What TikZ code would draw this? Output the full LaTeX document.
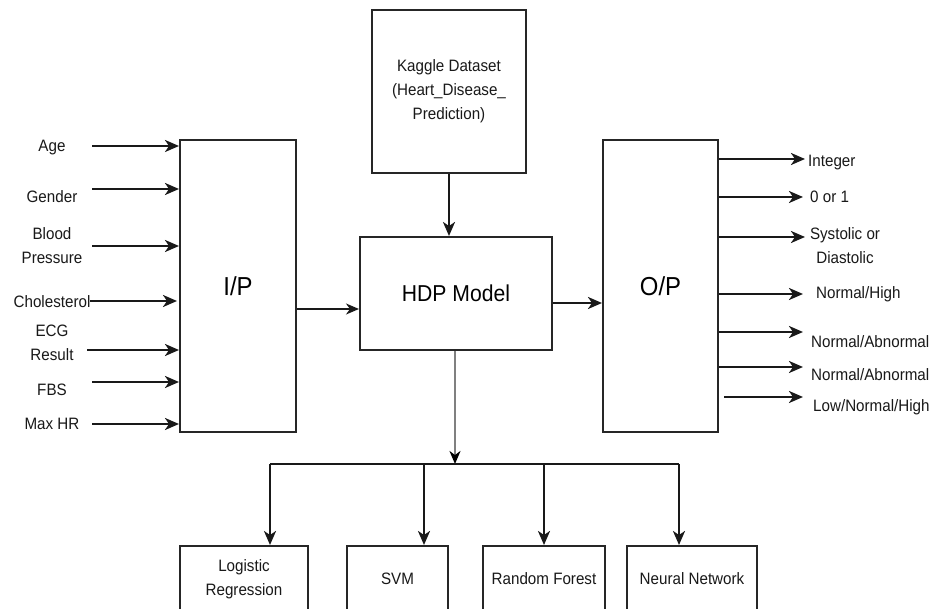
\documentclass[tikz,border=0pt]{standalone}
\usepackage{fontspec}
\setmainfont{Liberation Sans}[FakeStretch=0.92]
\usetikzlibrary{arrows.meta}
\begin{document}
\begin{tikzpicture}[x=1pt,y=-1pt,
 box/.style={draw=black!85,line width=2pt,inner sep=0pt,align=center,fill=white},
 lbl/.style={inner sep=0pt,align=center,text=black!90,font=\fontsize{16.5}{24}\selectfont},
 big/.style={font=\fontsize{26}{30}\selectfont},
 mid/.style={font=\fontsize{23}{28}\selectfont},
 arr/.style={draw=black!90,line width=2.4pt,-{Stealth[length=14pt,width=12pt,inset=4pt]}},
 thinarr/.style={draw=black!90,line width=1.4pt,-{Stealth[length=13pt,width=11pt,inset=4pt]}},
 greyarr/.style={draw=black!50,line width=1.8pt,-{Stealth[length=13pt,width=11pt,inset=4pt,color=black]}},
 bus/.style={draw=black!90,line width=2pt},
 inlbl/.style={lbl,minimum width=78pt},
]
\useasboundingbox (0,0) rectangle (932,609);
\clip (0,0) rectangle (932,609);
\fill[white] (0,0) rectangle (932,609);

% main boxes
\node[box,big,minimum width=116pt,minimum height=292pt] (ip) at (238,286) {I/P};
\node[box,mid,minimum width=192pt,minimum height=113pt] (hdp) at (456,293.5) {HDP Model};
\node[box,lbl,minimum width=154pt,minimum height=163pt] (kag) at (449,91.5) {Kaggle Dataset\\(Heart\_Disease\_\\Prediction)};
\node[box,big,minimum width=115pt,minimum height=292pt] (op) at (660.5,286) {O/P};

% bottom boxes
\node[box,lbl,minimum width=128pt,minimum height=66pt] (lr) at (244,579) {Logistic\\Regression};
\node[box,lbl,minimum width=101pt,minimum height=66pt] (svm) at (397.5,579) {SVM};
\node[box,lbl,minimum width=122pt,minimum height=66pt] (rf) at (544,579) {Random Forest};
\node[box,lbl,minimum width=130pt,minimum height=66pt] (nn) at (692,579) {Neural Network};

% input labels
\node[inlbl] (age) at (52,148) {Age};
\node[inlbl] (gen) at (52,197) {Gender};
\node[inlbl] (bp) at (52,246) {Blood\\Pressure};
\node[inlbl] (chol) at (52,302) {Cholesterol};
\node[inlbl] (ecg) at (52,342.5) {ECG\\Result};
\node[inlbl] (fbs) at (52,390) {FBS};
\node[inlbl] (mhr) at (52,424) {Max HR};

\coordinate (a1) at (92,146);
\coordinate (a2) at (92,189);
\coordinate (a3) at (92,246);
\coordinate (a4) at (90,301);
\coordinate (a5) at (87,350);
\coordinate (a6) at (92,382);
\coordinate (a7) at (92,424);
\foreach \c in {a1,a2,a3,a5,a6,a7} \draw[arr] (\c) -- (\c -| ip.west);
\draw[arr] (a4) -- ([xshift=-2pt]a4 -| ip.west);

% output arrows and labels
\coordinate (o1) at (805,159);
\coordinate (o2) at (803,197);
\coordinate (o3) at (805,237);
\coordinate (o4) at (803,294);
\coordinate (o5) at (803,332);
\coordinate (o6) at (803,367);
\coordinate (o7) at (803,397);
\foreach \c in {o1,o2,o3,o4,o5,o6} \draw[arr] (\c -| op.east) -- (\c);
\draw[arr] ([xshift=5pt]o7 -| op.east) -- (o7);

\node[lbl,anchor=west] (t1) at (808,163) {Integer};
\node[lbl,anchor=west] (t2) at (810,197) {0 or 1};
\node[lbl] (t3) at (845,245.5) {Systolic or\\Diastolic};
\node[lbl,anchor=west] (t4) at (816,294) {Normal/High};
\node[lbl,anchor=west] (t5) at (811,342) {Normal/Abnormal};
\node[lbl,anchor=west] (t6) at (811,375) {Normal/Abnormal};
\node[lbl,anchor=west] (t7) at (813,407) {Low/Normal/High};

% central connectors
\draw[thinarr] ([yshift=-23pt]ip.east) -- ([yshift=-23pt]ip.east -| hdp.west);
\draw[arr] (kag.south) -- (kag.south |- hdp.north);
\draw[arr] ([yshift=-9.5pt]hdp.east) -- ([yshift=-9.5pt]hdp.east -| op.west);

% bus to classifiers
\coordinate (bus) at (455,464);
\draw[greyarr] ([xshift=-1pt]hdp.south) -- ([xshift=-1pt]hdp.south |- bus);
\draw[bus] ([xshift=26pt]lr.north |- bus) -- ([xshift=-13pt]nn.north |- bus);
\draw[arr] ([xshift=26pt]lr.north |- bus) -- ([xshift=26pt]lr.north);
\draw[arr] ([xshift=26.5pt]svm.north |- bus) -- ([xshift=26.5pt]svm.north);
\draw[arr] (rf.north |- bus) -- (rf.north);
\draw[arr] ([xshift=-13pt]nn.north |- bus) -- ([xshift=-13pt]nn.north);
\end{tikzpicture}
\end{document}
